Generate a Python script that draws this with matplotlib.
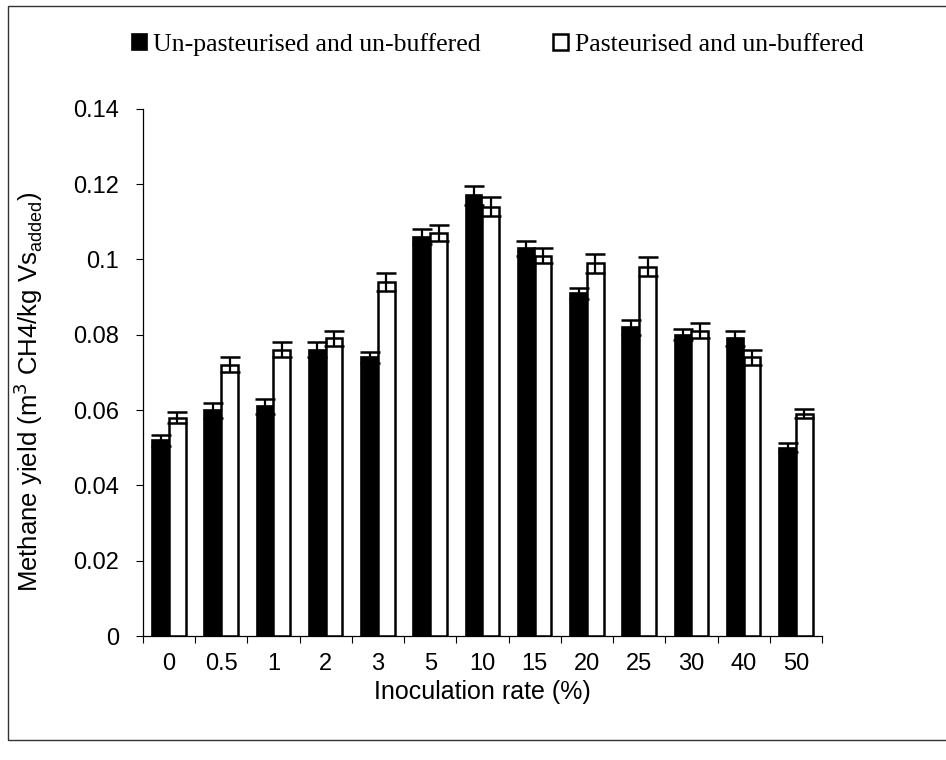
import matplotlib
matplotlib.use("Agg")
import matplotlib.pyplot as plt
import numpy as np
from matplotlib.patches import Rectangle
from matplotlib.ticker import FixedLocator, FuncFormatter

categories = ["0", "0.5", "1", "2", "3", "5", "10", "15", "20", "25", "30", "40", "50"]
unpasteurised = [0.052, 0.060, 0.061, 0.076, 0.074, 0.106, 0.117, 0.103, 0.091, 0.082, 0.080, 0.079, 0.050]
pasteurised = [0.058, 0.072, 0.076, 0.079, 0.094, 0.107, 0.114, 0.101, 0.099, 0.098, 0.081, 0.074, 0.059]
err_unpast = [0.0015, 0.0020, 0.0020, 0.0020, 0.0015, 0.0020, 0.0025, 0.0020, 0.0015, 0.0020, 0.0015, 0.0020, 0.0012]
err_past = [0.0015, 0.0020, 0.0020, 0.0020, 0.0025, 0.0020, 0.0025, 0.0020, 0.0025, 0.0025, 0.0020, 0.0020, 0.0012]

fig = plt.figure(figsize=(9.46, 7.6), dpi=100)
ax = fig.add_axes([0.151, 0.163, 0.718, 0.694])

x = np.arange(len(categories))
w = 0.32
ekw = dict(ecolor="black", elinewidth=1.6, capsize=7, capthick=1.8)
ax.bar(x - w / 2, unpasteurised, w, color="black", edgecolor="black", linewidth=1.2,
       yerr=err_unpast, error_kw=ekw, label="Un-pasteurised and un-buffered")
ax.bar(x + w / 2, pasteurised, w, color="white", edgecolor="black", linewidth=1.8,
       yerr=err_past, error_kw=ekw, label="Pasteurised and un-buffered")

ax.set_xlim(-0.5, len(categories) - 0.5)
ax.set_ylim(0, 0.14)
ax.set_yticks(np.arange(0, 0.141, 0.02))
ax.yaxis.set_major_formatter(FuncFormatter(lambda v, p: "%g" % round(v, 2)))
ax.set_xticks(x)
ax.set_xticklabels(categories)
ax.xaxis.set_minor_locator(FixedLocator(np.arange(-0.5, len(categories), 1.0)))
ax.tick_params(axis="x", which="major", length=0, pad=12, labelsize=17)
ax.tick_params(axis="x", which="minor", length=5, width=0.8, direction="out")
ax.tick_params(axis="y", which="major", length=5, width=0.8, direction="out", labelsize=17, pad=12)
for lab in ax.get_xticklabels() + ax.get_yticklabels():
    lab.set_family("Liberation Sans")

for s in ["top", "right"]:
    ax.spines[s].set_visible(False)
ax.spines["left"].set_linewidth(0.9)
ax.spines["bottom"].set_linewidth(0.9)

ax.set_xlabel("Inoculation rate (%)", fontsize=18, family="Liberation Sans", labelpad=4)
ax.set_ylabel(r"Methane yield (m$^{3}$ CH4/kg Vs$_{\mathregular{added}}$)", fontsize=18.5,
              family="Liberation Sans")
ax.yaxis.set_label_coords(-0.144, 0.463)

leg = fig.legend(loc="center", bbox_to_anchor=(0.526, 0.941), ncol=2, frameon=False,
                 prop={"family": "Liberation Serif", "size": 18.5}, handlelength=0.6,
                 handleheight=0.6, handletextpad=0.25, columnspacing=2.8)

fig.patches.append(Rectangle((8 / 946, 20 / 760), 1.2, 734 / 760, transform=fig.transFigure,
                             fill=False, edgecolor="#333333", linewidth=1.0))

fig.savefig("out.png", dpi=100)
